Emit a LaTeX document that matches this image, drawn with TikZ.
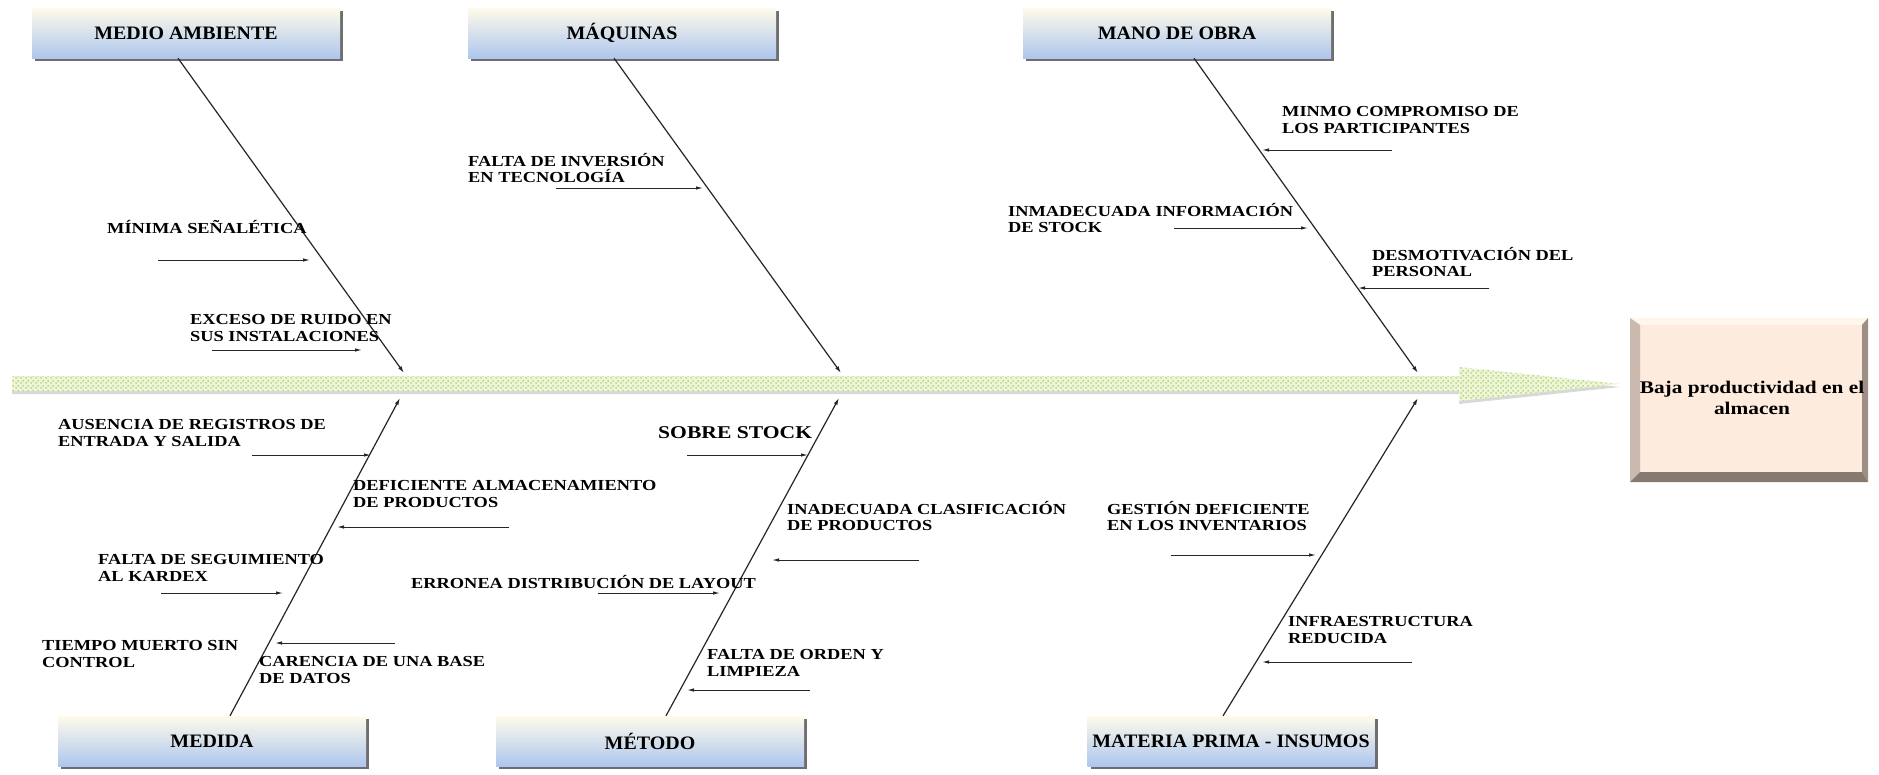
\documentclass[tikz,border=0pt]{standalone}
\usepackage{fontspec}
\setmainfont{Liberation Serif}
\newfontfamily\tnr[FakeStretch=1.2]{Liberation Serif}
\newfontfamily\tnrcaja[FakeStretch=1.05]{Liberation Serif}
\usetikzlibrary{arrows.meta,shadows,patterns.meta}
\definecolor{cajaarriba}{HTML}{FFFBEA}
\definecolor{cajaabajo}{HTML}{AEC6EE}
\definecolor{sombra}{HTML}{6E6E6E}
\definecolor{espinafondo}{HTML}{EEF6D6}
\definecolor{espinapunto}{HTML}{9CC86A}
\definecolor{efectofondo}{HTML}{FDEBDD}
\definecolor{biselizq}{HTML}{CBB8AE}
\definecolor{biselder}{HTML}{9E8E86}
\definecolor{biselinf}{HTML}{877870}
\definecolor{biselsup}{HTML}{FFF7EC}
\tikzdeclarepattern{
  name=puntos,
  type=uncolored,
  bounding box={(0pt,0pt) and (5pt,5pt)},
  tile size={(5pt,5pt)},
  code={\fill (1.25pt,1.25pt) circle [radius=1pt];
        \fill (3.75pt,3.75pt) circle [radius=1pt];}
}
\tikzset{
  caja/.style={shading=axis,top color=cajaarriba,bottom color=cajaabajo,
    minimum width=308,minimum height=50,inner xsep=0pt,text=black,
    font=\tnrcaja\bfseries\fontsize{19}{21}\selectfont,
    drop shadow={shadow xshift=3pt,shadow yshift=-3pt,fill=sombra,opacity=1}},
  causa/.style={font=\tnr\bfseries\fontsize{15.3}{16.5}\selectfont,align=left,
    inner sep=0pt,anchor=west,text=black},
  espina/.style={line width=1.2pt,draw=black!85,-{Latex[length=7pt,width=4pt]}},
  flecha/.style={line width=1pt,draw=black!85,-{Latex[length=7pt,width=3.5pt]}}
}
\begin{document}
\begin{tikzpicture}[x=1pt,y=-1pt]
\fill[white] (0,0) rectangle (1879,774);
\useasboundingbox (0,0) rectangle (1879,774);
% espina central
\path[fill=espinafondo,drop shadow={shadow xshift=0pt,shadow yshift=-3pt,fill=black!30},
  postaction={pattern=puntos,pattern color=espinapunto}]
(12,376)--(1459,376)--(1459,367)--(1620,384)--(1459,401)--(1459,391)--(12,391)--cycle;
% efecto
\fill[efectofondo] (1630,318) rectangle (1868,482);
\fill[biselsup] (1630,318)--(1868,318)--(1862,325)--(1640,325)--cycle;
\fill[biselizq] (1630,318)--(1640,325)--(1640,472)--(1630,482)--cycle;
\fill[biselder] (1868,318)--(1862,325)--(1862,472)--(1868,482)--cycle;
\fill[biselinf] (1630,482)--(1640,472)--(1862,472)--(1868,482)--cycle;
\node[font=\tnr\bfseries\fontsize{17.8}{21}\selectfont,align=center,inner sep=0pt]
  (efecto) at (1752,398) {Baja productividad en el\\almacen};
% categorias
\node[caja] (ambiente) at (186,33) {MEDIO AMBIENTE};
\node[caja] (maquinas) at (622,33) {MÁQUINAS};
\node[caja] (manoobra) at (1177,33) {MANO DE OBRA};
\node[caja] (medida) at (212,741) {MEDIDA};
\node[caja] (metodo) at (650,741) {MÉTODO};
\node[caja,minimum width=287] (materia) at (1231,741) {MATERIA PRIMA - INSUMOS};
% espinas
\coordinate (e1) at (404,373);
\coordinate (e2) at (841,373);
\coordinate (e3) at (1418,373);
\coordinate (e4) at (400,398);
\coordinate (e5) at (839,398);
\coordinate (e6) at (1418,398);
\draw[espina] ([xshift=-8pt]ambiente.south)--(e1);
\draw[espina] ([xshift=-8pt]maquinas.south)--(e2);
\draw[espina] ([xshift=17pt]manoobra.south)--(e3);
\draw[espina] ([xshift=18pt]medida.north)--(e4);
\draw[espina] ([xshift=16pt]metodo.north)--(e5);
\draw[espina] ([xshift=-8pt]materia.north)--(e6);
% causas
\node[causa] (c1) at (107,227) {MÍNIMA SEÑALÉTICA};
\node[causa] (c2) at (190,328) {EXCESO DE RUIDO EN\\SUS INSTALACIONES};
\node[causa] (c3) at (468,168) {FALTA DE INVERSIÓN\\EN TECNOLOGÍA};
\node[causa] (c4) at (1282,120) {MINMO COMPROMISO DE\\LOS PARTICIPANTES};
\node[causa] (c5) at (1008,218) {INMADECUADA INFORMACIÓN\\DE STOCK};
\node[causa] (c6) at (1372,262) {DESMOTIVACIÓN DEL\\PERSONAL};
\node[causa] (c7) at (58,433) {AUSENCIA DE REGISTROS DE\\ENTRADA Y SALIDA};
\node[causa] (c8) at (353,494) {DEFICIENTE ALMACENAMIENTO\\DE PRODUCTOS};
\node[causa] (c9) at (98,568) {FALTA DE SEGUIMIENTO\\AL KARDEX};
\node[causa] (c10) at (42,654) {TIEMPO MUERTO SIN\\CONTROL};
\node[causa] (c11) at (259,670) {CARENCIA DE UNA BASE\\DE DATOS};
\node[causa,font=\tnr\bfseries\fontsize{18}{20}\selectfont] (c12) at (658,433) {SOBRE STOCK};
\node[causa] (c13) at (787,516) {INADECUADA CLASIFICACIÓN\\DE PRODUCTOS};
\node[causa] (c14) at (411,582) {ERRONEA DISTRIBUCIÓN DE LAYOUT};
\node[causa] (c15) at (707,663) {FALTA DE ORDEN Y\\LIMPIEZA};
\node[causa] (c16) at (1107,516) {GESTIÓN DEFICIENTE\\EN LOS INVENTARIOS};
\node[causa] (c17) at (1288,630) {INFRAESTRUCTURA\\REDUCIDA};
% flechas de causas
\foreach \n/\xa/\xb/\y in {f1/158/310/260,f2/212/362/350,f3/556/703/188,
  f4/1392/1262/150,f5/1174/1308/228,f6/1489/1358/288,f7/252/371/455,
  f8/509/337/527,f9/161/283/593,f10/395/275/643,f11/687/808/455,
  f12/919/772/560,f13/598/720/593,f14/810/687/690,f15/1171/1316/555,
  f16/1412/1262/662}{
  \coordinate (\n a) at (\xa,\y);
  \coordinate (\n b) at (\xb,\y);
  \draw[flecha] (\n a)--(\n b);
}
\end{tikzpicture}
\end{document}
